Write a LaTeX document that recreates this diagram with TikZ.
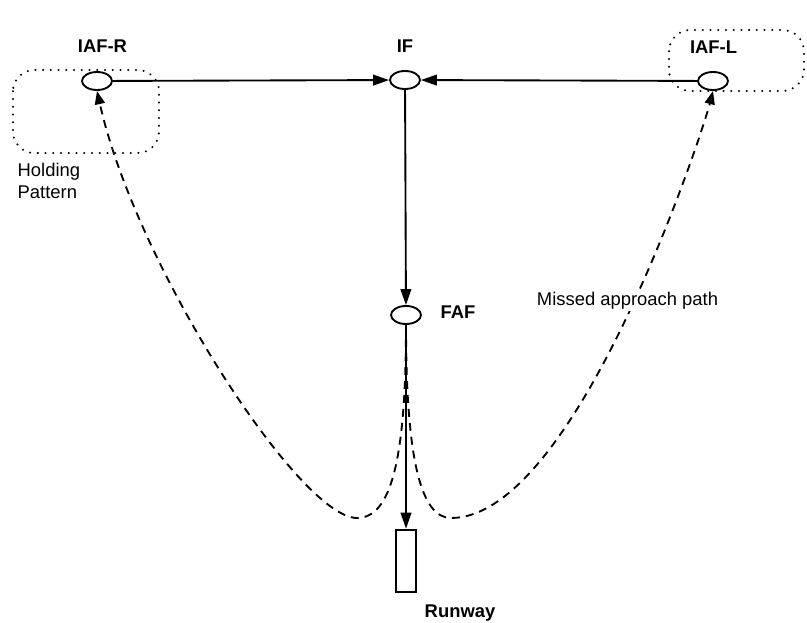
\documentclass[tikz,border=0pt]{standalone}
\usepackage{fontspec}
\setmainfont{Liberation Sans}
\usetikzlibrary{arrows.meta,shapes.geometric}

\begin{document}
\begin{tikzpicture}[x=0.75pt, y=-0.75pt,
        fix/.style={draw, ellipse, line width=1.4pt, minimum width=22.5pt, minimum height=13.5pt, inner sep=0pt},
        fixlbl/.style={font=\fontsize{13.8}{16}\selectfont\bfseries, anchor=base},
        note/.style={font=\fontsize{13.8}{16.5}\selectfont, align=left},
        leg/.style={line width=1.4pt, -{Triangle[length=12pt, width=8pt]}},
        missed/.style={line width=1.4pt, dash pattern=on 6pt off 4.5pt, -{Triangle[length=10pt, width=7.5pt]}},
        hold/.style={line width=1.7pt, dash pattern=on 0pt off 5.8pt, line cap=round, rounded corners=16pt}]

        \useasboundingbox (0,0) rectangle (807,623);

        % Zones d'attente
        \draw[hold] (13,70) rectangle (159,153);
        \draw[hold] (669,30) rectangle (804,91);

        % Points de l'approche
        \node[fix] (iafr) at (97,81) {};
        \node[fix] (if) at (405,80) {};
        \node[fix] (iafl) at (713,81) {};
        \node[fix] (faf) at (406,315) {};
        \node[draw, line width=1.4pt, minimum width=14.5pt, minimum height=47pt, inner sep=0pt] (runway) at (406,561) {};

        % Segments
        \draw[leg] (iafr) -- (if);
        \draw[leg] (iafl) -- (if);
        \draw[leg] (if) -- (faf);
        \draw[leg] (faf) -- (runway);

        % Approche interrompue
        \coordinate (dipr) at (357,518);
        \coordinate (dipl) at (451,518);
        \draw[missed] (faf.south) .. controls (406,460) and (391,518) .. (dipr)
            .. controls (300,518) and (136,266) .. (iafr.south);
        \draw[missed] (faf.south) .. controls (406,460) and (421,518) .. (dipl)
            .. controls (575,518) and (701,138) .. (iafl.south);

        % Noms
        \node[fixlbl] (iafrlbl) at (102.5,53) {IAF-R};
        \node[fixlbl] (iflbl) at (405,53) {IF};
        \node[fixlbl] (iafllbl) at (713.5,54) {IAF-L};
        \node[fixlbl] (faflbl) at (458,319) {FAF};
        \node[fixlbl] (runwaylbl) at (460,617) {Runway};
        \node[note, anchor=base west] (holdlbl) at (13,199) {Holding\\Pattern};
        \node[note, anchor=base, fill=white, inner sep=1pt] (missedlbl) at (627.5,306) {Missed approach path};

    \end{tikzpicture}
\end{document}
